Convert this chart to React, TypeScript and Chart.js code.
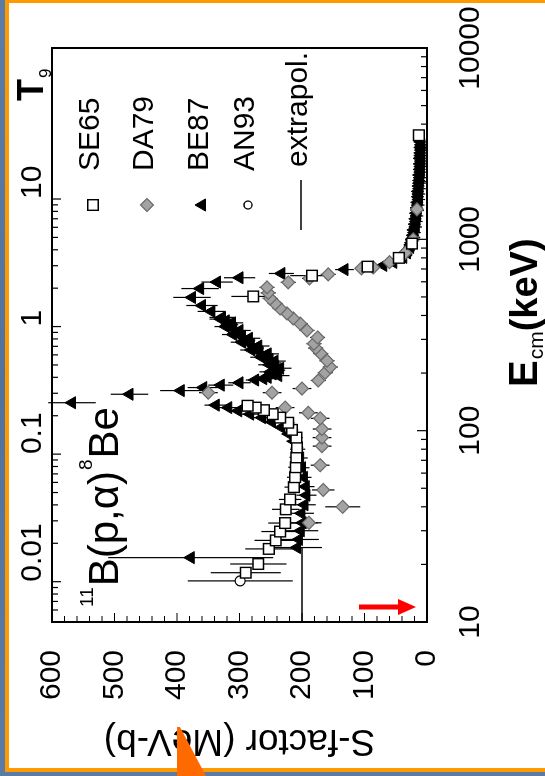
import React, { useEffect, useRef } from 'react';
import { Chart, registerables } from 'chart.js';

Chart.register(...registerables);

// ---------------- data ----------------
const seriesNames = ['SE65', 'DA79', 'BE87', 'AN93', 'extrapol.'];

// SE65 (open squares): E_cm (keV), S (MeV b), error on S
const se65E = [18.1, 20.1, 24.1, 26.7, 29.7, 32.9, 38.8, 43.7, 50.7, 57.1, 64.4, 72.5, 81.7, 92, 101, 110, 117, 122, 128, 132, 135, 503, 646, 720, 800, 950, 3500];
const se65S = [290, 270, 253, 242, 235, 227, 226, 219, 213, 211, 210, 209, 208, 209, 216, 222, 235, 247, 261, 274, 287, 278, 184, 95, 45, 24, 13];
const se65Err = [56, 45, 38, 34, 30, 27, 22, 18, 15, 13, 12, 11, 10, 10, 10, 10, 10, 10, 10, 10, 10, 35, 35, 10, 6, 5, 5];

// DA79 (grey diamonds)
const da79E = [33, 40, 49, 66, 83, 92, 102, 116, 124, 132, 158, 158, 166, 183, 201, 215, 232, 253, 270, 285, 307, 334, 363, 386, 410, 435, 462, 491, 525, 561, 596, 625, 656, 705, 713, 760, 850, 1000, 1435];
const da79S = [189, 135, 166, 171, 168, 168, 168, 171, 190, 227, 350, 248, 200, 174, 163, 155, 160, 170, 178, 181, 175, 192, 203, 214, 224, 235, 243, 251, 254, 256, 222, 188, 158, 105, 86, 60, 35, 22, 16];
const da79Err = [20, 28, 18, 15, 15, 15, 15, 15, 15, 15, 15, 15, 15, 12, 12, 12, 12, 12, 12, 12, 12, 12, 12, 12, 12, 12, 12, 12, 12, 12, 12, 12, 12, 10, 10, 8, 6, 5, 5];

// BE87 (black triangles)
const be87E = [
  21.7, 24.5, 27, 30, 33, 37, 41, 46, 51, 57,
  64, 72, 80, 88, 96, 104, 111, 117, 122, 127,
  132, 136, 140, 155, 162, 168, 173, 178, 184, 187,
  190, 194, 198, 203, 207, 212, 216, 221, 226, 231,
  236, 242, 247, 252, 258, 264, 270, 277, 283, 290,
  297, 304, 311, 318, 326, 334, 342, 350, 358, 366,
  375, 383, 391, 420, 451, 497, 553, 598, 630, 663,
  695, 731, 758, 805, 850, 880, 908, 935, 960, 985,
  1000, 1025, 1050, 1085, 1120, 1160, 1200, 1240, 1280, 1325,
  1370, 1415, 1460, 1510, 1560, 1615, 1670, 1725, 1780, 1840,
  1900, 1965, 2030, 2100, 2170, 2245, 2320, 2400, 2480, 2565,
  2650, 2740, 2830, 2925, 3020, 3120, 3230,
];
const be87S = [
  378, 208, 205, 202, 199, 201, 196, 193, 194, 197,
  200, 203, 207, 213, 221, 233, 248, 264, 283, 302,
  318, 338, 568, 476, 394, 358, 330, 300, 275, 262,
  255, 238, 247, 250, 241, 235, 243, 252, 247, 244,
  252, 265, 260, 255, 268, 281, 275, 270, 282, 296,
  289, 285, 296, 310, 304, 300, 310, 322, 316, 312,
  322, 330, 328, 345, 360, 376, 363, 336, 300, 233,
  132, 70, 54, 38, 32, 30, 27, 26, 25, 23,
  24, 21, 22, 20, 21, 18, 19, 17, 18, 16,
  17, 15, 16, 14, 15, 13, 14, 13, 14, 12,
  13, 12, 12, 11, 12, 10, 11, 10, 11, 9,
  11, 10, 10, 9, 10, 9, 10,
];
const be87Err = [
  132, 40, 32, 28, 24, 20, 18, 16, 14, 12,
  12, 12, 12, 12, 12, 12, 12, 13, 14, 15,
  16, 18, 38, 30, 33, 25, 20, 18, 15, 18,
  14, 18, 14, 18, 14, 18, 14, 18, 14, 18,
  14, 18, 14, 18, 14, 18, 14, 18, 14, 18,
  14, 18, 14, 18, 14, 18, 14, 18, 14, 18,
  14, 18, 20, 22, 25, 30, 30, 25, 25, 20,
  15, 10, 8, 7, 7, 8, 7, 9, 8, 10,
  8, 10, 9, 10, 9, 10, 9, 10, 9, 10,
  9, 10, 9, 10, 9, 10, 9, 10, 9, 10,
  9, 10, 9, 10, 9, 10, 9, 10, 9, 10,
  9, 10, 9, 10, 9, 10, 9,
];

// AN93 (small open circles)
const an93E = [16.4];
const an93S = [299];
const an93Err = [84];

// extrapolation line
const extrapolE = [10, 24.5];
const extrapolS = [200, 200];

// axes
const E_MIN = 10;
const E_MAX = 10000;
const S_MIN = 0;
const S_MAX = 600;
const GAMOW_KEV = 350; // Gamow peak E0 ~ 0.35 MeV * T9^(2/3)
const eMajorTicks = [10, 100, 1000, 10000];
const eTickLabels = ['10', '100', '1000', '10000'];
const sMajorTicks = [0, 100, 200, 300, 400, 500, 600];
const sTickLabels = ['0', '100', '200', '300', '400', '500', '600'];
const t9MajorTicks = [0.01, 0.1, 1, 10];
const t9TickLabels = ['0.01', '0.1', '1', '10'];

// ---------------- helpers ----------------
const FONT = '"Liberation Sans", Arial, Helvetica, sans-serif';

function logTicks(decades: number[], lo: number, hi: number) {
  const out: number[] = [];
  for (const d of decades) {
    for (let k = 1; k <= 9; k++) {
      const v = Number((d * k).toPrecision(6));
      if (v >= lo * (1 - 1e-9) && v <= hi * (1 + 1e-9)) out.push(v);
    }
  }
  return out;
}
const isLogMajor = (v: number, majors: number[]) => majors.some((m) => Math.abs(v / m - 1) < 1e-6);
const logLabel = (v: number, majors: number[], labels: string[]) => {
  const i = majors.findIndex((m) => Math.abs(v / m - 1) < 1e-6);
  return i >= 0 ? labels[i] : '';
};

function fontAvailable(name: string) {
  const c = document.createElement('canvas').getContext('2d');
  if (!c) return false;
  const probe = '0123456789 SEDAB';
  c.font = '40px monospace';
  const w1 = c.measureText(probe).width;
  c.font = `40px "${name}", monospace`;
  const w2 = c.measureText(probe).width;
  return Math.abs(w1 - w2) > 0.5;
}

const errMap: Record<string, number[]> = {
  SE65: se65Err,
  DA79: da79Err,
  BE87: be87Err,
  AN93: an93Err,
};

function markerPath(ctx: CanvasRenderingContext2D, style: string, x: number, y: number, r: number) {
  ctx.beginPath();
  if (style === 'rect') {
    const s = r * Math.SQRT1_2;
    ctx.rect(x - s, y - s, 2 * s, 2 * s);
  } else if (style === 'rectRot') {
    ctx.moveTo(x, y - r);
    ctx.lineTo(x + r, y);
    ctx.lineTo(x, y + r);
    ctx.lineTo(x - r, y);
    ctx.closePath();
  } else if (style === 'triangle') {
    ctx.moveTo(x, y - r);
    ctx.lineTo(x + r * 0.866, y + r * 0.5);
    ctx.lineTo(x - r * 0.866, y + r * 0.5);
    ctx.closePath();
  } else {
    ctx.arc(x, y, r, 0, Math.PI * 2);
  }
}

const errorBarPlugin = {
  id: 'errorBars',
  beforeDatasetsDraw(chart: any) {
    const { ctx, chartArea: a, scales } = chart;
    ctx.save();
    ctx.beginPath();
    ctx.rect(a.left, a.top - 12, a.right - a.left, a.bottom - a.top + 12);
    ctx.clip();
    ctx.strokeStyle = '#000';
    ctx.lineWidth = 1.2;
    chart.data.datasets.forEach((ds: any) => {
      const errs = errMap[ds.label];
      if (!errs) return;
      ds.data.forEach((p: any, j: number) => {
        const x = scales.x.getPixelForValue(p.x);
        const y1 = scales.y.getPixelForValue(p.y - errs[j]);
        const y2 = scales.y.getPixelForValue(p.y + errs[j]);
        ctx.beginPath();
        ctx.moveTo(x, y1);
        ctx.lineTo(x, y2);
        ctx.stroke();
      });
    });
    ctx.restore();
  },
};

const framePlugin = {
  id: 'frameTicks',
  afterDatasetsDraw(chart: any) {
    const { ctx, chartArea: a, scales } = chart;
    ctx.save();
    ctx.strokeStyle = '#000';
    ctx.lineWidth = 1.2;
    ctx.beginPath();
    for (const t of scales.x.ticks) {
      const p = scales.x.getPixelForValue(t.value);
      const len = isLogMajor(t.value, eMajorTicks) ? 10 : 6;
      ctx.moveTo(p, a.bottom);
      ctx.lineTo(p, a.bottom - len);
    }
    for (const t of scales.t9.ticks) {
      const p = scales.t9.getPixelForValue(t.value);
      const len = isLogMajor(t.value, t9MajorTicks) ? 9 : 6;
      ctx.moveTo(p, a.top);
      ctx.lineTo(p, a.top + len);
    }
    for (const t of scales.y.ticks) {
      const p = scales.y.getPixelForValue(t.value);
      const len = sMajorTicks.includes(t.value) ? 9 : 6;
      ctx.moveTo(a.left, p);
      ctx.lineTo(a.left + len, p);
    }
    ctx.stroke();
    ctx.lineWidth = 2;
    ctx.strokeRect(a.left, a.top, a.right - a.left, a.bottom - a.top);
    ctx.restore();
  },
};

const legendPlugin = {
  id: 'insideLegend',
  afterDraw(chart: any) {
    const { ctx } = chart;
    const rows = [93, 147, 202, 248, 301];
    const markerU = 571;
    const textU = 605;
    ctx.save();
    ctx.font = `30px ${FONT}`;
    ctx.textAlign = 'left';
    ctx.textBaseline = 'middle';
    chart.data.datasets.forEach((ds: any, i: number) => {
      const v = rows[i];
      if (ds.showLine) {
        ctx.strokeStyle = ds.borderColor;
        ctx.lineWidth = ds.borderWidth;
        ctx.beginPath();
        ctx.moveTo(markerU - 25, v);
        ctx.lineTo(markerU + 25, v);
        ctx.stroke();
      } else {
        const r = ds.label === 'AN93' ? 4 : ds.pointRadius;
        markerPath(ctx, ds.pointStyle, markerU, v, r);
        ctx.fillStyle = ds.pointBackgroundColor;
        ctx.fill();
        ctx.strokeStyle = ds.pointBorderColor;
        ctx.lineWidth = ds.pointBorderWidth;
        ctx.stroke();
      }
      ctx.fillStyle = '#000';
      ctx.fillText(ds.label, textU + (ds.showLine ? 4 : 0), v - 2);
    });
    ctx.restore();
  },
};

const textPlugin = {
  id: 'annotTexts',
  afterDraw(chart: any) {
    const { ctx } = chart;
    ctx.save();
    ctx.fillStyle = '#000';
    ctx.textAlign = 'left';
    ctx.textBaseline = 'alphabetic';
    // reaction label 11B(p,a)8Be
    let u = 169;
    ctx.font = `19px ${FONT}`;
    ctx.fillText('11', u, 93);
    u += ctx.measureText('11').width + 1;
    ctx.font = `42px ${FONT}`;
    ctx.fillText('B(p,\u03b1)', u, 118);
    u += ctx.measureText('B(p,\u03b1)').width + 1;
    ctx.font = `19px ${FONT}`;
    ctx.fillText('8', u, 92);
    u += ctx.measureText('8').width + 1;
    ctx.font = `42px ${FONT}`;
    ctx.fillText('Be', u, 118);
    // T9 axis title
    ctx.font = `bold 36px ${FONT}`;
    ctx.fillText('T', 675, 43);
    ctx.font = `17px ${FONT}`;
    ctx.fillText('9', 698, 51);
    // E_cm axis title
    let w = 389;
    ctx.font = `bold 40px ${FONT}`;
    ctx.fillText('E', w, 537);
    w += ctx.measureText('E').width + 1;
    ctx.font = `21px ${FONT}`;
    ctx.fillText('cm', w, 543);
    w += ctx.measureText('cm').width;
    ctx.font = `bold 38px ${FONT}`;
    ctx.fillText('(keV)', w, 537);
    ctx.restore();
  },
};

const zeroSidePadding = (s: any) => {
  s.paddingLeft = 0;
  s.paddingRight = 0;
  s.paddingTop = 0;
  s.paddingBottom = 0;
};

export default function App() {
  const ref = useRef<HTMLCanvasElement | null>(null);

  useEffect(() => {
    if (!ref.current) return;
    const narrow = fontAvailable('Liberation Sans Narrow');
    const tickFont = narrow
      ? { family: '"Liberation Sans Narrow", "Liberation Sans", Arial, sans-serif', size: 32 }
      : { family: FONT, size: 30 };

    const eTicks = logTicks([10, 100, 1000, 10000], E_MIN, E_MAX);
    const t9Min = Math.pow(E_MIN / GAMOW_KEV, 1.5);
    const t9Max = Math.pow(E_MAX / GAMOW_KEV, 1.5);
    const t9Ticks = logTicks([0.001, 0.01, 0.1, 1, 10], 0.006, 10);
    const sTicks: number[] = [];
    for (let s = S_MIN; s <= S_MAX; s += 20) sTicks.push(s);

    const pts = (E: number[], S: number[]) => E.map((e, i) => ({ x: e, y: S[i] }));

    const chart = new Chart(ref.current, {
      type: 'scatter',
      data: {
        datasets: [
          {
            label: seriesNames[0],
            data: pts(se65E, se65S),
            pointStyle: 'rect',
            pointRadius: 7.5,
            pointBackgroundColor: '#ffffff',
            pointBorderColor: '#000000',
            pointBorderWidth: 1.4,
            showLine: false,
          },
          {
            label: seriesNames[1],
            data: pts(da79E, da79S),
            pointStyle: 'rectRot',
            pointRadius: 6.5,
            pointBackgroundColor: '#a3a3a3',
            pointBorderColor: '#6a6a6a',
            pointBorderWidth: 1.2,
            showLine: false,
          },
          {
            label: seriesNames[2],
            data: pts(be87E, be87S),
            pointStyle: 'triangle',
            pointRadius: 7,
            pointBackgroundColor: '#000000',
            pointBorderColor: '#000000',
            pointBorderWidth: 1,
            showLine: false,
          },
          {
            label: seriesNames[3],
            data: pts(an93E, an93S),
            pointStyle: 'circle',
            pointRadius: 5,
            pointBackgroundColor: '#ffffff',
            pointBorderColor: '#000000',
            pointBorderWidth: 1.3,
            showLine: false,
          },
          {
            label: seriesNames[4],
            data: pts(extrapolE, extrapolS),
            showLine: true,
            borderColor: '#000000',
            borderWidth: 1.6,
            pointRadius: 0,
            fill: false,
          },
        ],
      } as any,
      options: {
        responsive: false,
        animation: false,
        devicePixelRatio: 1,
        layout: { padding: { left: 0, right: 48, top: 0, bottom: 0 } },
        plugins: {
          legend: { display: false },
          tooltip: { enabled: false },
        },
        scales: {
          x: {
            type: 'logarithmic',
            position: 'bottom',
            min: E_MIN,
            max: E_MAX,
            afterBuildTicks: (s: any) => {
              s.ticks = eTicks.map((v) => ({ value: v }));
            },
            afterFit: (s: any) => {
              s.height = 118;
              zeroSidePadding(s);
            },
            ticks: {
              autoSkip: false,
              maxRotation: 0,
              minRotation: 0,
              padding: 26,
              color: '#000',
              font: tickFont,
              callback: (v: any) => logLabel(Number(v), eMajorTicks, eTickLabels),
            },
            grid: { display: false, drawTicks: false },
            border: { display: false },
          },
          t9: {
            type: 'logarithmic',
            axis: 'x',
            position: 'top',
            min: t9Min,
            max: t9Max,
            afterBuildTicks: (s: any) => {
              s.ticks = t9Ticks.map((v) => ({ value: v }));
            },
            afterFit: (s: any) => {
              s.height = 52;
              zeroSidePadding(s);
            },
            ticks: {
              autoSkip: false,
              maxRotation: 0,
              minRotation: 0,
              padding: 1,
              align: 'start',
              color: '#000',
              font: tickFont,
              callback: (v: any) => logLabel(Number(v), t9MajorTicks, t9TickLabels),
            },
            grid: { display: false, drawTicks: false },
            border: { display: false },
          },
          y: {
            type: 'linear',
            position: 'left',
            min: S_MIN,
            max: S_MAX,
            afterBuildTicks: (s: any) => {
              s.ticks = sTicks.map((v) => ({ value: v }));
            },
            afterFit: (s: any) => {
              s.width = 154;
              zeroSidePadding(s);
            },
            ticks: {
              autoSkip: false,
              padding: 28,
              color: '#000',
              font: tickFont,
              callback: (v: any) => {
                const i = sMajorTicks.findIndex((m) => Math.abs(Number(v) - m) < 1e-6);
                return i >= 0 ? sTickLabels[i] : '';
              },
            },
            title: {
              display: true,
              text: 'S-factor (MeV-b)',
              color: '#000',
              font: { family: FONT, size: 37 },
              padding: { top: 14, bottom: 0 },
            },
            grid: { display: false, drawTicks: false },
            border: { display: false },
          },
        },
      } as any,
      plugins: [errorBarPlugin, framePlugin, legendPlugin, textPlugin],
    });
    return () => chart.destroy();
  }, []);

  return (
    <div
      style={{
        position: 'absolute',
        left: 0,
        top: 0,
        width: 545,
        height: 776,
        overflow: 'hidden',
        background: 'linear-gradient(180deg, #5b7ca6 0%, #51729c 50%, #5a7ba5 100%)',
      }}
    >
      <div style={{ position: 'absolute', left: 5, top: 0, width: 540, height: 772, background: '#ff9900' }} />
      <div style={{ position: 'absolute', left: 9, top: 3, width: 536, height: 765, background: '#ffffff' }} />
      <div
        style={{
          position: 'absolute',
          left: 0,
          top: 0,
          width: 776,
          height: 545,
          transformOrigin: '0 0',
          transform: 'translate(0px, 776px) rotate(-90deg)',
        }}
      >
        <canvas ref={ref} width={776} height={545} style={{ width: 776, height: 545, display: 'block' }} />
      </div>
      <svg
        width={545}
        height={776}
        style={{ position: 'absolute', left: 0, top: 0, pointerEvents: 'none' }}
      >
        <polygon points="359,604.5 398,604.5 398,599 416,607 398,615 398,609.5 359,609.5" fill="#ff0000" />
        <polygon points="177,727 180,727 206,776 177,776" fill="#ff6a00" />
      </svg>
    </div>
  );
}
